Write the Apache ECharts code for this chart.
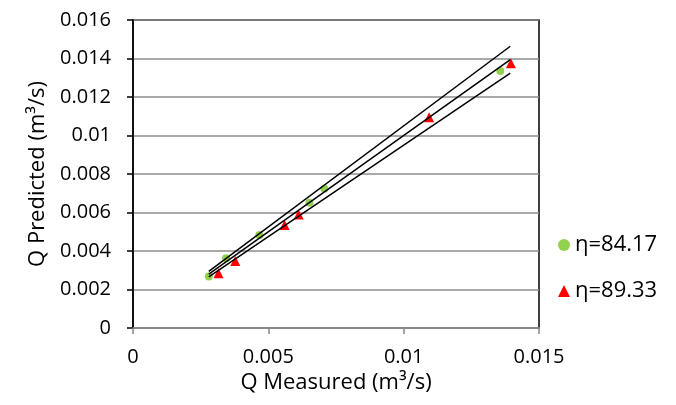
<!DOCTYPE html>
<html><head><meta charset="utf-8">
<script src="https://cdn.jsdelivr.net/npm/echarts@6/dist/echarts.min.js"></script>
<style>html,body{margin:0;padding:0;background:#fff}#c{width:676px;height:405px}</style>
</head><body><div id="c"></div>
<script>
const seriesNames = ['η=84.17', 'η=89.33'];
const greenX = [0.0028, 0.00344, 0.00467, 0.00652, 0.00707, 0.01357];
const greenY = [0.00267, 0.00362, 0.00483, 0.00651, 0.00724, 0.01335];
const redX = [0.00316, 0.00378, 0.0056, 0.00612, 0.01094, 0.01396];
const redY = [0.00284, 0.00348, 0.00535, 0.0059, 0.01095, 0.01375];
const lineX = [0.0028, 0.01394];
const lineMid = [0.0028, 0.01394];
const lineUpper = [0.00294, 0.014637];
const lineLower = [0.00266, 0.013243];
const xTicks = [0, 0.005, 0.01, 0.015];
const yTicks = [0, 0.002, 0.004, 0.006, 0.008, 0.01, 0.012, 0.014, 0.016];

const zip = (a, b) => a.map((v, i) => [v, b[i]]);
const font = 'Open Sans';
const lineSeries = (ys) => ({
  type: 'line', data: zip(lineX, ys), symbol: 'none', silent: true,
  lineStyle: { color: '#000', width: 1.5 }, z: 3
});
const chart = echarts.init(document.getElementById('c'));
chart.setOption({
  animation: false,
  grid: { left: 133, right: 137, top: 20, bottom: 77, show: true, borderColor: '#000', borderWidth: 1.5 },
  legend: {
    data: seriesNames, orient: 'vertical', left: 553, top: 229, itemGap: 24,
    itemWidth: 12, itemHeight: 12,
    textStyle: { fontFamily: font, fontSize: 22, color: '#000' }
  },
  xAxis: {
    type: 'value', min: xTicks[0], max: xTicks[xTicks.length - 1], interval: 0.005,
    name: 'Q Measured (m³/s)', nameLocation: 'middle', nameGap: 42,
    nameTextStyle: { fontFamily: font, fontSize: 22, color: '#000' },
    axisLine: { lineStyle: { color: '#868686', width: 2 } },
    axisTick: { show: true, length: 6, lineStyle: { color: '#868686', width: 1.5 } },
    axisLabel: { fontFamily: font, fontSize: 20, color: '#000', margin: 19 },
    splitLine: { show: false }
  },
  yAxis: {
    type: 'value', min: yTicks[0], max: yTicks[yTicks.length - 1], interval: 0.002,
    name: 'Q Predicted (m³/s)', nameLocation: 'middle', nameGap: 79, nameRotate: 90,
    nameTextStyle: { fontFamily: font, fontSize: 22, color: '#000' },
    axisLine: { show: true, lineStyle: { color: '#000', width: 1.5 } },
    axisTick: { show: true, length: 6, lineStyle: { color: '#000', width: 1.5 } },
    axisLabel: { fontFamily: font, fontSize: 20, color: '#000', margin: 22 },
    splitLine: { show: true, lineStyle: { color: '#8c8c8c', width: 1.5 } }
  },
  series: [
    lineSeries(lineUpper),
    lineSeries(lineMid),
    lineSeries(lineLower),
    { name: seriesNames[0], type: 'scatter', data: zip(greenX, greenY), symbol: 'circle', symbolSize: 8,
      itemStyle: { color: '#92D050', opacity: 1 }, z: 2 },
    { name: seriesNames[1], type: 'scatter', data: zip(redX, redY), symbol: 'triangle', symbolSize: 10,
      itemStyle: { color: '#FF0000', opacity: 1 }, z: 2 }
  ]
});
</script></body></html>
